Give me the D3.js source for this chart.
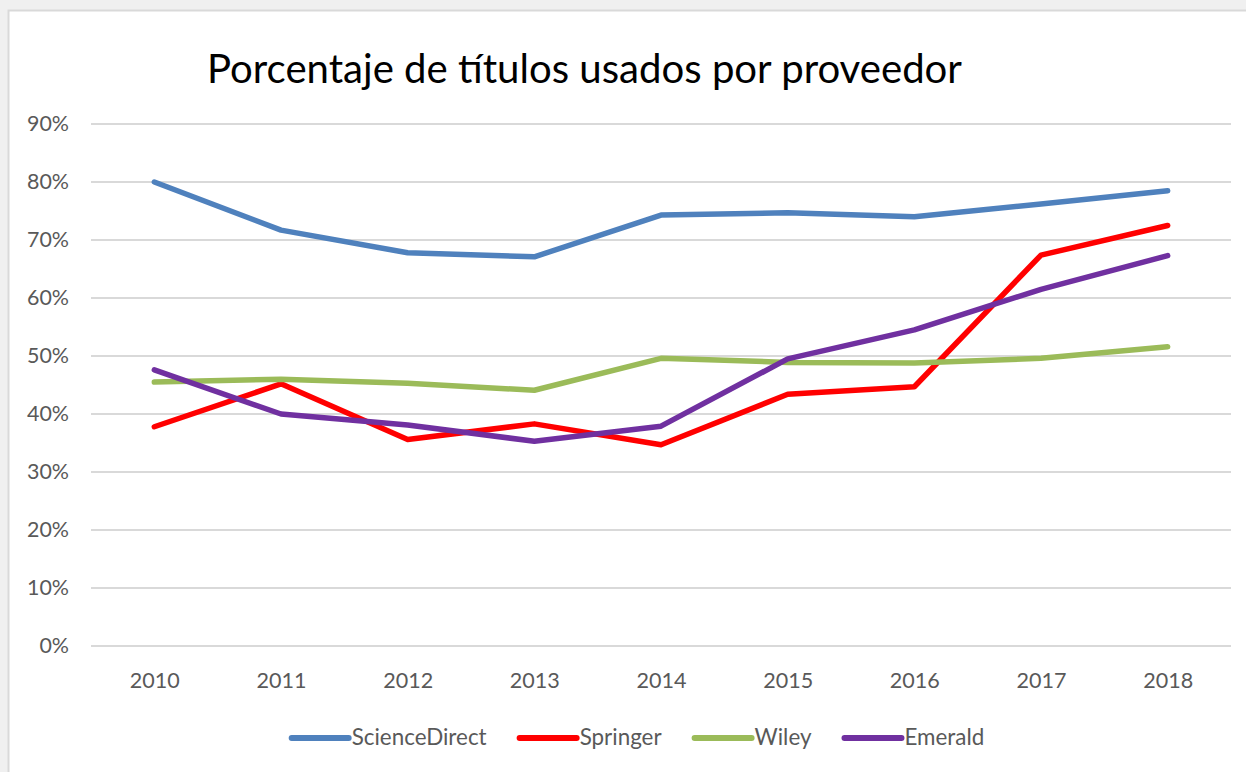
<!DOCTYPE html>
<html>
<head>
<meta charset="utf-8">
<script src="https://cdn.jsdelivr.net/npm/d3@7"></script>
<style>
  html, body { margin: 0; padding: 0; background: #f0f0f0; }
  svg { display: block; font-family: Lato, "Open Sans", sans-serif; }
</style>
</head>
<body>
<svg id="chart" width="1246" height="772"></svg>
<script>
'use strict';

var years = ['2010', '2011', '2012', '2013', '2014', '2015', '2016', '2017', '2018'];
var yTicks = [0, 0.1, 0.2, 0.3, 0.4, 0.5, 0.6, 0.7, 0.8, 0.9];
var seriesNames = ['ScienceDirect', 'Springer', 'Wiley', 'Emerald'];
var scienceDirect = [0.800, 0.717, 0.678, 0.671, 0.743, 0.747, 0.740, 0.762, 0.785];
var springer      = [0.378, 0.452, 0.356, 0.383, 0.347, 0.434, 0.447, 0.674, 0.725];
var wiley         = [0.455, 0.460, 0.453, 0.441, 0.496, 0.489, 0.488, 0.496, 0.516];
var emerald       = [0.476, 0.400, 0.381, 0.353, 0.379, 0.495, 0.545, 0.615, 0.673];
var colors = ['#4f81bd', '#ff0000', '#9bbb59', '#7030a0'];

var svg = d3.select('#chart'),
    W = 1246, H = 772,
    plot = {left: 91, right: 1231, top: 124, bottom: 646};

// white chart area with light border (cropped on right/bottom)
svg.append('rect')
    .attr('x', 8.5).attr('y', 10.5)
    .attr('width', W).attr('height', H)
    .attr('fill', '#fff')
    .attr('stroke', '#d9d9d9')
    .attr('stroke-width', 2);

// make a text node have a given pixel width by adjusting font size
function fitWidth(sel, target) {
    var base = parseFloat(sel.attr('font-size'));
    var w = sel.node().getComputedTextLength();
    sel.attr('font-size', (base * target / w).toFixed(2));
}

var x = d3.scalePoint()
    .domain(years)
    .range([plot.left, plot.right])
    .padding(0.5);

var y = d3.scaleLinear()
    .domain([0, 0.9])
    .range([plot.bottom, plot.top]);

// gridlines
svg.append('g')
    .selectAll('line')
    .data(yTicks)
    .enter().append('line')
    .attr('x1', plot.left).attr('x2', plot.right)
    .attr('y1', function(d) { return y(d); })
    .attr('y2', function(d) { return y(d); })
    .attr('stroke', '#d9d9d9')
    .attr('stroke-width', 2);

// y axis labels
var yAxis = svg.append('g')
    .attr('transform', 'translate(' + (plot.left - 22) + ',0)')
    .call(d3.axisLeft(y).tickValues(yTicks).tickFormat(d3.format('.0%')).tickSize(0).tickPadding(0));
yAxis.select('.domain').remove();
yAxis.selectAll('text')
    .attr('fill', '#595959')
    .attr('font-size', 18)
    .attr('font-family', 'Lato, sans-serif');
fitWidth(yAxis.selectAll('text').filter(function(d) { return d === 0.9; }), 42);
var yFs = yAxis.selectAll('text').filter(function(d) { return d === 0.9; }).attr('font-size');
yAxis.selectAll('text').attr('font-size', yFs);

// x axis labels
var xAxis = svg.append('g')
    .attr('transform', 'translate(0,' + plot.bottom + ')')
    .call(d3.axisBottom(x).tickSize(0).tickPadding(42));
xAxis.select('.domain').remove();
xAxis.selectAll('text')
    .attr('fill', '#595959')
    .attr('font-size', 18)
    .attr('font-family', 'Lato, sans-serif')
    .attr('dy', 0);
fitWidth(xAxis.selectAll('text').filter(function(d) { return d === '2010'; }), 50);
var xFs = xAxis.selectAll('text').filter(function(d) { return d === '2010'; }).attr('font-size');
xAxis.selectAll('text').attr('font-size', xFs);

// lines
var allSeries = [scienceDirect, springer, wiley, emerald];
var line = d3.line()
    .x(function(d, i) { return x(years[i]); })
    .y(function(d) { return y(d); });

svg.append('g')
    .selectAll('path')
    .data(allSeries)
    .enter().append('path')
    .attr('d', line)
    .attr('fill', 'none')
    .attr('stroke', function(d, i) { return colors[i]; })
    .attr('stroke-width', 5.5)
    .attr('stroke-linecap', 'round')
    .attr('stroke-linejoin', 'round');

// title
var title = svg.append('text')
    .attr('x', 584.5).attr('y', 83)
    .attr('text-anchor', 'middle')
    .attr('font-size', 38)
    .attr('fill', '#000')
    .text('Porcentaje de títulos usados por proveedor');
fitWidth(title, 755);

// legend
var legend = svg.append('g');
var items = legend.selectAll('g')
    .data(seriesNames)
    .enter().append('g');
items.append('line')
    .attr('x1', 0).attr('x2', 57)
    .attr('y1', 0).attr('y2', 0)
    .attr('stroke', function(d, i) { return colors[i]; })
    .attr('stroke-width', 6)
    .attr('stroke-linecap', 'round');
items.append('text')
    .attr('x', 60).attr('y', 7)
    .attr('fill', '#595959')
    .attr('font-size', 18)
    .text(function(d) { return d; });
fitWidth(items.select('text').filter(function(d) { return d === 'ScienceDirect'; }), 135);
var lFs = items.select('text').filter(function(d) { return d === 'ScienceDirect'; }).attr('font-size');
items.selectAll('text').attr('font-size', lFs);

var pos = 0, offsets = [];
items.each(function() {
    offsets.push(pos);
    pos += 60 + d3.select(this).select('text').node().getComputedTextLength() + 33;
});
var total = pos - 33, start = 638 - total / 2;
items.attr('transform', function(d, i) { return 'translate(' + (start + offsets[i]) + ',738)'; });
</script>
</body>
</html>
